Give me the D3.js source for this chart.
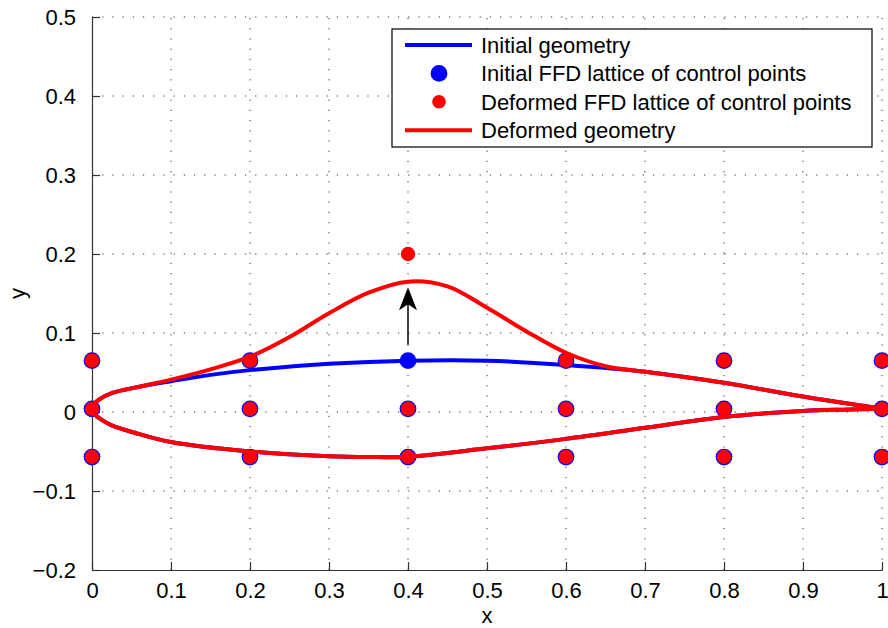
<!DOCTYPE html>
<html>
<head>
<meta charset="utf-8">
<script src="https://cdn.jsdelivr.net/npm/d3@7"></script>
<style>
  body { margin: 0; background: #fff; }
  text { font-family: "Liberation Sans", Arial, sans-serif; }
</style>
</head>
<body>
<div class="chart"></div>
<script>
// data

var xTicks = [0, 0.1, 0.2, 0.3, 0.4, 0.5, 0.6, 0.7, 0.8, 0.9, 1];
var xTickLabels = ['0', '0.1', '0.2', '0.3', '0.4', '0.5', '0.6', '0.7', '0.8', '0.9', '1'];
var yTicks = [-0.2, -0.1, 0, 0.1, 0.2, 0.3, 0.4, 0.5];
var yTickLabels = ['\u22120.2', '\u22120.1', '0', '0.1', '0.2', '0.3', '0.4', '0.5'];

// initial upper surface
var upperX = [0, 0.003, 0.01, 0.025, 0.06, 0.1, 0.15, 0.2, 0.3, 0.4, 0.5, 0.6, 0.7, 0.8, 0.9, 1];
var upperY = [0.004, 0.0105, 0.0165, 0.024, 0.032, 0.039, 0.047, 0.053, 0.061, 0.065, 0.065, 0.0595, 0.051, 0.037, 0.0195, 0.004];

// deformed upper surface
var defX = [0, 0.003, 0.01, 0.025, 0.06, 0.1, 0.15, 0.2, 0.25, 0.3, 0.35, 0.4, 0.45, 0.5, 0.55, 0.6, 0.65, 0.7, 0.8, 0.9, 1];
var defY = [0.004, 0.0105, 0.0165, 0.024, 0.032, 0.041, 0.054, 0.070, 0.095, 0.125, 0.151, 0.165, 0.159, 0.132, 0.102, 0.075, 0.058, 0.051, 0.037, 0.0195, 0.004];

// lower surface (same for both)
var lowerX = [0, 0.003, 0.01, 0.025, 0.06, 0.1, 0.2, 0.3, 0.35, 0.4, 0.5, 0.6, 0.7, 0.8, 0.9, 0.95, 1];
var lowerY = [0.004, -0.0025, -0.0085, -0.017, -0.028, -0.038, -0.050, -0.056, -0.057, -0.0565, -0.046, -0.034, -0.020, -0.0063, 0.0013, 0.003, 0.004];

// FFD lattice
var latticeX = [0, 0.2, 0.4, 0.6, 0.8, 1];
var latticeY = [-0.057, 0.004, 0.065];
var movedPoint = { i: 2, j: 2, y: 0.2 };   // the lattice point that was moved

var arrowFrom = 0.085, arrowTo = 0.158;

var legendItems = ['Initial geometry', 'Initial FFD lattice of control points',
                   'Deformed FFD lattice of control points', 'Deformed geometry'];

var width = 888, height = 628;
var margin = { left: 92, right: 6, top: 17, bottom: 58 };

var svg = d3.select('.chart').append('svg')
    .attr('width', width)
    .attr('height', height);

var x = d3.scaleLinear().domain([0, 1]).range([margin.left, width - margin.right]);
var y = d3.scaleLinear().domain([-0.2, 0.5]).range([height - margin.bottom, margin.top]);

// grid
var grid = svg.append('g').attr('class', 'grid')
    .attr('stroke', '#333').attr('stroke-width', 1).attr('stroke-dasharray', '1.2,9');
grid.selectAll('.vg').data(xTicks.slice(1)).enter().append('line')
    .attr('x1', function (d) { return x(d); }).attr('x2', function (d) { return x(d); })
    .attr('y1', y(-0.2)).attr('y2', y(0.5));
grid.selectAll('.hg').data(yTicks.slice(1)).enter().append('line')
    .attr('y1', function (d) { return y(d); }).attr('y2', function (d) { return y(d); })
    .attr('x1', x(0)).attr('x2', x(1));

// axes, ticks inward
var xAxis = d3.axisBottom(x).tickValues(xTicks)
    .tickFormat(function (d, i) { return xTickLabels[i]; })
    .tickSizeInner(-8).tickSizeOuter(0).tickPadding(17);
var yAxis = d3.axisLeft(y).tickValues(yTicks)
    .tickFormat(function (d, i) { return yTickLabels[i]; })
    .tickSizeInner(-8).tickSizeOuter(0).tickPadding(16);

var gx = svg.append('g').attr('transform', 'translate(0,' + y(-0.2) + ')').call(xAxis);
var gy = svg.append('g').attr('transform', 'translate(' + x(0) + ',0)').call(yAxis);
[gx, gy].forEach(function (g) {
  g.selectAll('path, line').attr('stroke', '#333').attr('stroke-width', 1.2);
  g.selectAll('text').attr('fill', '#000').style('font-size', '22px')
    .style('font-family', '"Liberation Sans", Arial, sans-serif');
});
gx.selectAll('text').attr('dy', '0.71em').attr('y', 12);

// curves: one path around the whole section so the leading edge stays round
var line = d3.line()
    .x(function (d) { return x(d[0]); })
    .y(function (d) { return y(d[1]); })
    .curve(d3.curveCatmullRom.alpha(0.5));

function pairs(xs, ys) { return xs.map(function (v, i) { return [v, ys[i]]; }); }
function section(ux, uy) {
  return pairs(ux, uy).reverse().concat(pairs(lowerX, lowerY).slice(1));
}

var lw = 4;
function drawCurve(data, color) {
  svg.append('path').datum(data)
    .attr('d', line)
    .attr('fill', 'none')
    .attr('stroke', color)
    .attr('stroke-width', lw)
    .attr('stroke-linejoin', 'round')
    .attr('stroke-linecap', 'round');
}

// initial geometry
drawCurve(section(upperX, upperY), '#0000ff');

// lattice points
var initPts = [], defPts = [];
latticeY.forEach(function (yy, j) {
  latticeX.forEach(function (xx, i) {
    initPts.push([xx, yy]);
    if (i === movedPoint.i && j === movedPoint.j) defPts.push([xx, movedPoint.y]);
    else defPts.push([xx, yy]);
  });
});

svg.selectAll('.initPt').data(initPts).enter().append('circle')
    .attr('class', 'initPt')
    .attr('cx', function (d) { return x(d[0]); })
    .attr('cy', function (d) { return y(d[1]); })
    .attr('r', 8.4)
    .style('fill', '#0000ff');

svg.selectAll('.defPt').data(defPts).enter().append('circle')
    .attr('class', 'defPt')
    .attr('cx', function (d) { return x(d[0]); })
    .attr('cy', function (d) { return y(d[1]); })
    .attr('r', 7.2)
    .style('fill', '#ff0000');

// deformed geometry
drawCurve(section(defX, defY), '#ff0000');

// arrow
var ax = x(0.4), tip = y(arrowTo);
svg.append('line')
    .attr('x1', ax).attr('x2', ax)
    .attr('y1', y(arrowFrom)).attr('y2', tip + 16)
    .attr('stroke', '#111').attr('stroke-width', 1.6);
svg.append('path')
    .attr('d', 'M' + ax + ',' + tip + ' L' + (ax + 9) + ',' + (tip + 23) +
               ' L' + ax + ',' + (tip + 17) + ' L' + (ax - 9) + ',' + (tip + 23) + 'Z')
    .attr('fill', '#000');

// legend
var lg = svg.append('g').attr('transform', 'translate(392,29)');
lg.append('rect').attr('width', 480).attr('height', 118)
    .attr('fill', '#fff').attr('stroke', '#000').attr('stroke-width', 1.2);

var rows = lg.selectAll('.row').data(legendItems).enter().append('g')
    .attr('transform', function (d, i) { return 'translate(0,' + (16 + i * 28.4) + ')'; });
rows.append('text')
    .attr('x', 89).attr('dy', '0.36em')
    .style('font-size', '22px')
    .text(function (d) { return d; });

lg.append('line').attr('x1', 13).attr('x2', 80).attr('y1', 16).attr('y2', 16)
    .attr('stroke', '#0000ff').attr('stroke-width', lw);
lg.append('circle').attr('cx', 47).attr('cy', 16 + 28.4).attr('r', 8.4).style('fill', '#0000ff');
lg.append('circle').attr('cx', 47).attr('cy', 16 + 2 * 28.4).attr('r', 6.8).style('fill', '#ff0000');
lg.append('line').attr('x1', 13).attr('x2', 80).attr('y1', 16 + 3 * 28.4).attr('y2', 16 + 3 * 28.4)
    .attr('stroke', '#ff0000').attr('stroke-width', lw);

// axis labels
svg.append('text').attr('x', x(0.5)).attr('y', 623)
    .attr('text-anchor', 'middle').style('font-size', '22px').text('x');
svg.append('text').attr('transform', 'translate(25,' + y(0.15) + ') rotate(-90)')
    .attr('text-anchor', 'middle').style('font-size', '22px').text('y');
</script>
</body>
</html>
